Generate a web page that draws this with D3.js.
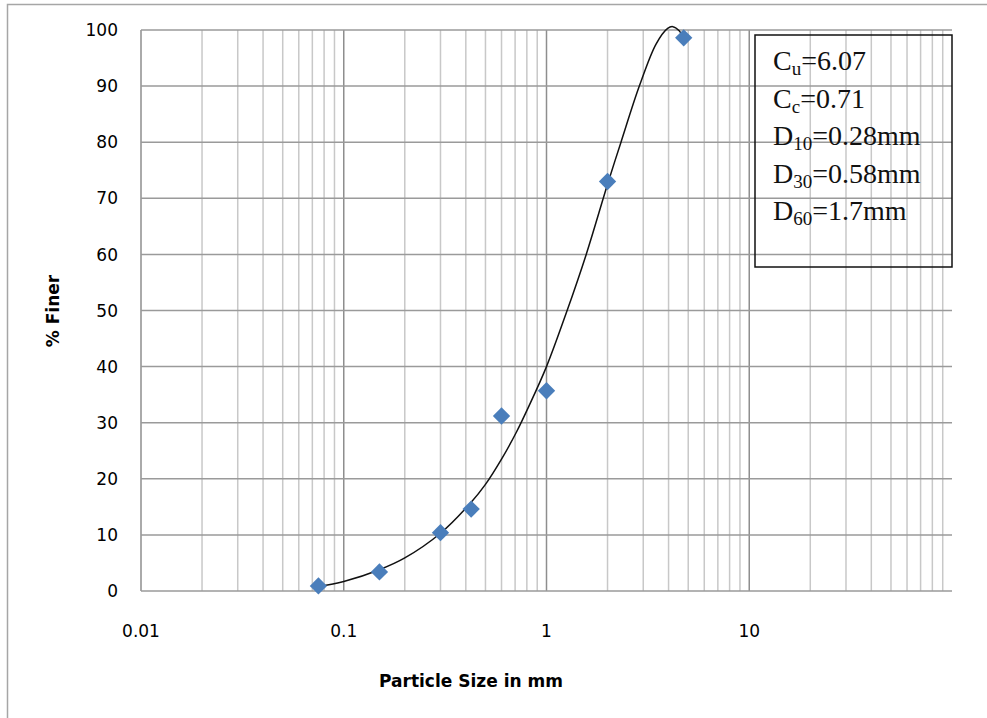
<!DOCTYPE html>
<html>
<head>
<meta charset="utf-8">
<script src="https://cdn.jsdelivr.net/npm/d3@7"></script>
<style>
    body { margin: 0; background: #fff; }
    svg { display: block; }
</style>
</head>
<body>
<svg id="chart" width="987" height="718"></svg>
<script>
// sieve analysis results
const sieveSizes = [0.075, 0.15, 0.3, 0.425, 0.6, 1.0, 2.0, 4.75];
const percentFiner = [0.9, 3.4, 10.4, 14.6, 31.2, 35.7, 73.0, 98.6];

// trendline
const trendX = [0.075, 0.1, 0.15, 0.2, 0.3, 0.42, 0.5, 0.6, 0.71, 0.82, 1.0, 1.25, 1.57, 2.0, 2.33, 2.87, 3.47, 3.96, 4.2, 4.5, 4.78];
const trendY = [0.8, 1.7, 3.8, 5.9, 10.3, 15.6, 19.0, 23.5, 28.3, 33.0, 40.0, 49.5, 60.0, 72.5, 80.0, 90.0, 97.5, 100.3, 100.6, 99.9, 98.3];

const xTicks = [0.01, 0.1, 1, 10];
const xTickLabels = ['0.01', '0.1', '1', '10'];
const yTicks = [0, 10, 20, 30, 40, 50, 60, 70, 80, 90, 100];

const legendLines = [
    ['C', 'u', '=6.07'],
    ['C', 'c', '=0.71'],
    ['D', '10', '=0.28mm'],
    ['D', '30', '=0.58mm'],
    ['D', '60', '=1.7mm']
];

const svg = d3.select('#chart');
const plot = { left: 141, top: 30, right: 952, bottom: 591 };

const x = d3.scaleLog().domain([0.01, 100]).range([plot.left, plot.right]);
const y = d3.scaleLinear().domain([0, 100]).range([plot.bottom, plot.top]);

// outer chart frame
svg.append('rect')
    .attr('x', 7.5)
    .attr('y', 4.5)
    .attr('width', 1000)
    .attr('height', 800)
    .attr('fill', 'none')
    .attr('stroke', '#a6a6a6')
    .attr('stroke-width', 1.5);

// minor vertical grid
const minor = [];
[0.01, 0.1, 1, 10].forEach(d => {
    for (let k = 2; k <= 9; k++) minor.push(d * k);
});
svg.append('g')
    .selectAll('line')
    .data(minor)
    .join('line')
    .attr('x1', d => x(d))
    .attr('x2', d => x(d))
    .attr('y1', y(0))
    .attr('y2', y(100))
    .attr('stroke', '#c8c8c8')
    .attr('stroke-width', 1.5);

// major vertical grid
svg.append('g')
    .selectAll('line')
    .data(xTicks)
    .join('line')
    .attr('x1', d => x(d))
    .attr('x2', d => x(d))
    .attr('y1', y(0))
    .attr('y2', y(100))
    .attr('stroke', '#8e8e8e')
    .attr('stroke-width', 1.5);

// horizontal grid
svg.append('g')
    .selectAll('line')
    .data(yTicks)
    .join('line')
    .attr('x1', plot.left)
    .attr('x2', plot.right)
    .attr('y1', d => y(d))
    .attr('y2', d => y(d))
    .attr('stroke', '#9a9a9a')
    .attr('stroke-width', 1.5);

// axis labels
svg.append('g')
    .selectAll('text')
    .data(yTicks)
    .join('text')
    .attr('x', 118)
    .attr('y', d => y(d))
    .attr('dy', '0.36em')
    .attr('text-anchor', 'end')
    .attr('font-family', 'DejaVu Sans, sans-serif')
    .attr('font-size', 17)
    .attr('fill', '#000')
    .text(d => d);

svg.append('g')
    .selectAll('text')
    .data(xTicks)
    .join('text')
    .attr('x', d => x(d))
    .attr('y', 637)
    .attr('text-anchor', 'middle')
    .attr('font-family', 'DejaVu Sans, sans-serif')
    .attr('font-size', 17)
    .attr('fill', '#000')
    .text((d, i) => xTickLabels[i]);

svg.append('text')
    .attr('x', 471)
    .attr('y', 687)
    .attr('text-anchor', 'middle')
    .attr('font-family', 'DejaVu Sans, sans-serif')
    .attr('font-size', 17)
    .attr('font-weight', 'bold')
    .attr('fill', '#000')
    .text('Particle Size in mm');

svg.append('text')
    .attr('transform', 'translate(59,311) rotate(-90)')
    .attr('text-anchor', 'middle')
    .attr('font-family', 'DejaVu Sans, sans-serif')
    .attr('font-size', 17)
    .attr('font-weight', 'bold')
    .attr('fill', '#000')
    .text('% Finer');

// trendline
const trend = trendX.map((d, i) => [d, trendY[i]]);
svg.append('path')
    .datum(trend)
    .attr('fill', 'none')
    .attr('stroke', '#111')
    .attr('stroke-width', 1.5)
    .attr('d', d3.line()
        .x(d => x(d[0]))
        .y(d => y(d[1]))
        .curve(d3.curveCatmullRom.alpha(0.5)));

// data points
svg.append('g')
    .selectAll('path')
    .data(sieveSizes)
    .join('path')
    .attr('transform', (d, i) => `translate(${x(d)},${y(percentFiner[i])}) rotate(45)`)
    .attr('d', d3.symbol().type(d3.symbolSquare).size(150))
    .attr('fill', '#4a7ebb');

// legend box with soil parameters
svg.append('rect')
    .attr('x', 755)
    .attr('y', 35)
    .attr('width', 197)
    .attr('height', 232)
    .attr('fill', 'none')
    .attr('stroke', '#111')
    .attr('stroke-width', 1.5);

const rows = svg.append('g')
    .selectAll('text')
    .data(legendLines)
    .join('text')
    .attr('x', 773)
    .attr('y', (d, i) => 70 + i * 37.5)
    .attr('font-family', 'Liberation Serif, serif')
    .attr('font-size', 28)
    .attr('fill', '#111');

rows.append('tspan').text(d => d[0]);
rows.append('tspan')
    .attr('font-size', 19)
    .attr('dy', 5)
    .text(d => d[1]);
rows.append('tspan')
    .attr('dy', -5)
    .text(d => d[2]);
</script>
</body>
</html>
